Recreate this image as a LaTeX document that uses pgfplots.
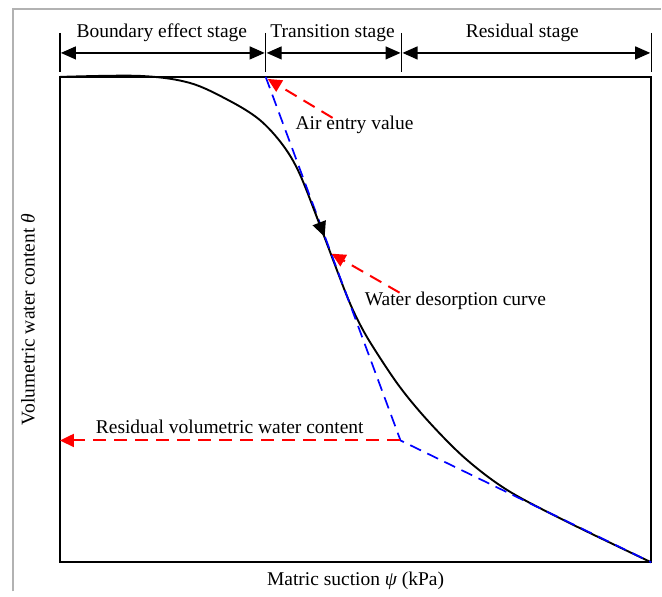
\documentclass[border=0pt]{standalone}
\usepackage{fontspec}
\setmainfont{Liberation Serif}
\usepackage{pgfplots}
\pgfplotsset{compat=1.18}
\usetikzlibrary{arrows.meta}
\begin{document}
\begin{tikzpicture}[font=\fontsize{9.75}{11}\selectfont]
\begin{axis}[
  x=0.5pt, y=0.5pt,
  xmin=60, xmax=652, ymin=29, ymax=515,
  xtick=\empty, ytick=\empty,
  axis line style={line width=1pt},
  clip=false,
]
% bounding frame
\path (axis cs:0,0) rectangle (axis cs:662,592);
\draw[gray!60, line width=0.8pt] (axis cs:13,0) -- (axis cs:13,583) -- (axis cs:662,583);
% desorption curve
\addplot[black, line width=0.95pt, smooth, tension=0.55] coordinates {
(60,515)(140,516)(190,509)(230,491)(260,472)(283,447)(300,418)(322,362)(346,299)(358,272)(372,247)(400,205)(430,169)(467,132)(510,100)(573,67)(652,29)
};
% tangent lines
\addplot[blue, line width=0.85pt, dash pattern=on 6pt off 3.5pt] coordinates {
(266,515)(401,151)(652,29)
};
% direction arrowhead on curve
\draw[black, line width=0.6pt, -{Triangle[length=7.5pt,width=7pt]}] (axis cs:313,386) -- (axis cs:325,355);
% red annotation arrows
\draw[red, line width=1pt, dash pattern=on 6.5pt off 4pt, -{Triangle[length=7pt,width=6.5pt]}] (axis cs:333,474) -- (axis cs:268,513);
\draw[red, line width=1pt, dash pattern=on 6.5pt off 4pt, -{Triangle[length=7pt,width=6.5pt]}] (axis cs:400,299) -- (axis cs:332,338);
\draw[red, line width=1pt, dash pattern=on 6.5pt off 4pt, -{Triangle[length=7pt,width=6.5pt]}] (axis cs:400,151) -- (axis cs:60,151);
\node at (axis cs:355,467) {Air entry value};
\node at (axis cs:456,291) {Water desorption curve};
\node at (axis cs:230,165) {Residual volumetric water content};
% stage bar
\draw[black, line width=0.6pt] (axis cs:60,559) -- (axis cs:60,520);
\draw[black, line width=0.6pt] (axis cs:266,559) -- (axis cs:266,520);
\draw[black, line width=0.6pt] (axis cs:402,559) -- (axis cs:402,520);
\draw[black, line width=0.6pt] (axis cs:652,559) -- (axis cs:652,520);
\draw[black, line width=0.6pt, {Triangle[length=7.5pt,width=6.5pt]}-{Triangle[length=7.5pt,width=6.5pt]}] (axis cs:61,539) -- (axis cs:265,539);
\draw[black, line width=0.6pt, {Triangle[length=7.5pt,width=6.5pt]}-{Triangle[length=7.5pt,width=6.5pt]}] (axis cs:267,539) -- (axis cs:401,539);
\draw[black, line width=0.6pt, {Triangle[length=7.5pt,width=6.5pt]}-{Triangle[length=7.5pt,width=6.5pt]}] (axis cs:403,539) -- (axis cs:651,539);
\node at (axis cs:162,559) {Boundary effect stage};
\node at (axis cs:333,559) {Transition stage};
\node at (axis cs:523,559) {Residual stage};
% axis labels
\node at (axis cs:356,10) {Matric suction {\itshape ψ} (kPa)};
\node[rotate=90] at (axis cs:28,272) {Volumetric water content {\itshape θ}};
\end{axis}
\end{tikzpicture}
\end{document}
